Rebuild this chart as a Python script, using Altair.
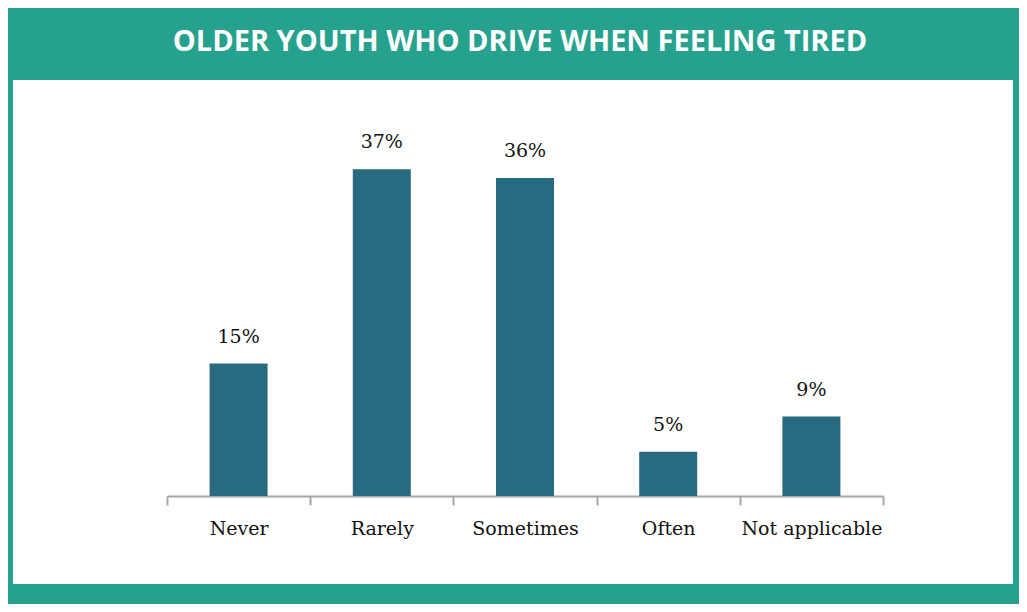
import altair as alt
import pandas as pd

categories = ["Never", "Rarely", "Sometimes", "Often", "Not applicable"]
values = [15, 37, 36, 5, 9]
labels = ["15%", "37%", "36%", "5%", "9%"]
title_text = "OLDER YOUTH WHO DRIVE WHEN FEELING TIRED"

df = pd.DataFrame({"category": categories, "value": values, "label": labels})
df_title = pd.DataFrame({"t": [title_text]})

TEAL = "#25A18E"
BAR = "#286A7F"
SERIF = "DejaVu Serif"

x = alt.X(
    "category:N",
    sort=categories,
    scale=alt.Scale(range=[154, 870], paddingInner=0, paddingOuter=0),
    axis=alt.Axis(
        title=None,
        tickBand="extent",
        grid=False,
        domainColor="#A6A6A6",
        domainWidth=2,
        tickColor="#A6A6A6",
        tickWidth=2,
        tickSize=9,
        labelFont=SERIF,
        labelFontSize=19,
        labelColor="#111111",
        labelAngle=0,
        labelBaseline="alphabetic",
        labelPadding=29,
        offset=-88,
    ),
)
y = alt.Y(
    "value:Q",
    scale=alt.Scale(domain=[0, 40], range=[416, 62.8]),
    axis=None,
)

bars = alt.Chart(df).mark_bar(color=BAR, size=58).encode(x=x, y=y)
text = alt.Chart(df).mark_text(
    font=SERIF, fontSize=19, color="#111111", baseline="alphabetic", dy=-21
).encode(x=x, y=y, text="label:N")

title = alt.Chart(df_title).mark_text(
    font="Open Sans", fontWeight="bold", fontSize=29, color="white",
    baseline="alphabetic", align="center"
).encode(text="t:N", x=alt.value(507), y=alt.value(-29))

chart = (
    alt.layer(bars, text, title)
    .properties(
        width=1000,
        height=504,
        autosize=alt.AutoSizeParams(type="none"),
        padding={"left": 5, "top": 72, "right": 6, "bottom": 20},
        background=TEAL,
    )
    .configure_view(fill="white", stroke=None)
)

chart.save("out.html", embed_options={"renderer": "svg", "actions": False})
